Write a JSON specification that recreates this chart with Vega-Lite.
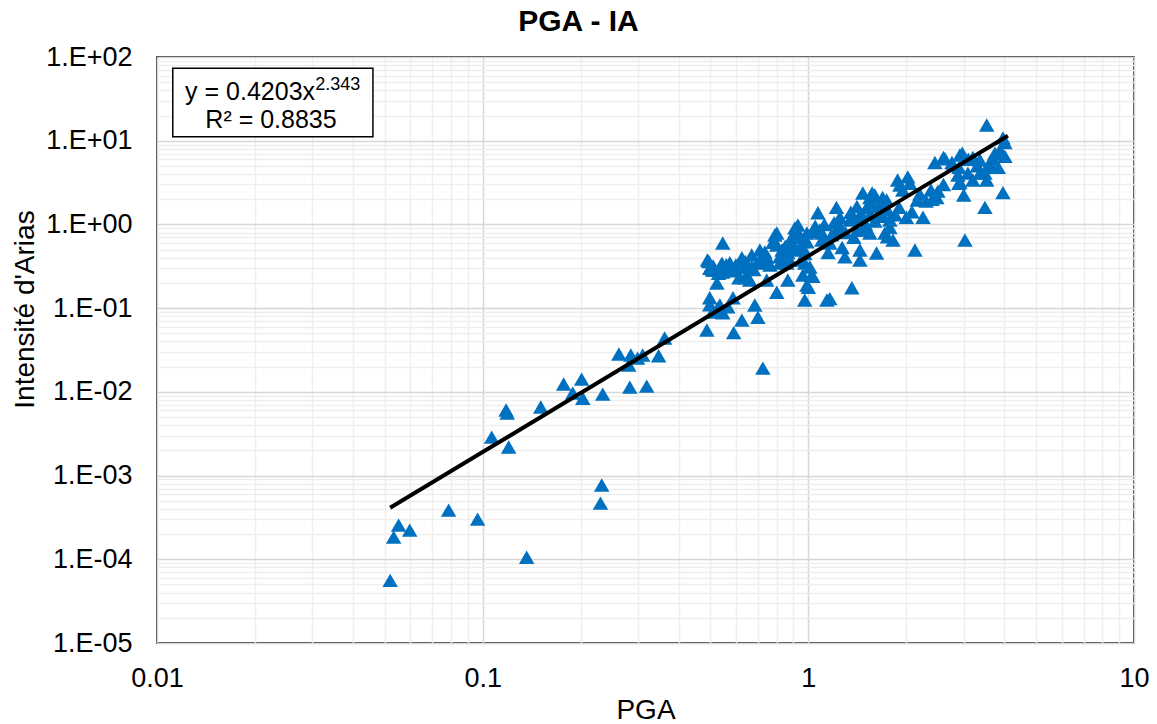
{
  "$schema": "https://vega.github.io/schema/vega-lite/v6.json",
  "width": 977,
  "height": 586,
  "autosize": {"type": "none"},
  "padding": {"left": 157, "top": 57, "right": 23, "bottom": 81},
  "background": "white",
  "title": {
    "text": "PGA - IA",
    "fontSize": 30,
    "fontWeight": "bold",
    "font": "Liberation Sans",
    "color": "black",
    "anchor": "middle",
    "offset": 6,
    "dx": -67
  },
  "config": {
    "font": "Liberation Sans",
    "view": {"stroke": "black", "strokeWidth": 1.5},
    "axisX": {
      "titleFontSize": 28,
      "titleFontWeight": "normal",
      "titleColor": "black",
      "labelFontSize": 27,
      "labelColor": "black",
      "labelPadding": 22,
      "labelOverlap": false,
      "labelFlush": false,
      "ticks": false,
      "tickSize": 0,
      "domain": false,
      "grid": true,
      "gridWidth": 1.5
    },
    "axisY": {
      "titleFontSize": 28,
      "titleFontWeight": "normal",
      "titleColor": "black",
      "labelFontSize": 27,
      "labelColor": "black",
      "labelPadding": 25,
      "labelOverlap": false,
      "labelFlush": false,
      "ticks": false,
      "tickSize": 0,
      "domain": false,
      "grid": true,
      "gridWidth": 1.5
    }
  },
  "datasets": {
    "points": [
      {"x": 0.052, "y": 5.6e-5}, {"x": 0.0533, "y": 1.84e-4}, {"x": 0.0552, "y": 2.56e-4}, {"x": 0.0597, "y": 2.23e-4},
      {"x": 0.0786, "y": 3.87e-4}, {"x": 0.0965, "y": 3.02e-4}, {"x": 0.1365, "y": 1.06e-4}, {"x": 0.232, "y": 7.7e-4},
      {"x": 0.23, "y": 4.69e-4}, {"x": 0.1066, "y": 2.88e-3}, {"x": 0.1202, "y": 2.19e-3}, {"x": 0.118, "y": 6.07e-3},
      {"x": 0.119, "y": 5.6e-3}, {"x": 0.1508, "y": 6.58e-3}, {"x": 0.1773, "y": 1.24e-2}, {"x": 0.189, "y": 9.7e-3},
      {"x": 0.2013, "y": 1.42e-2}, {"x": 0.203, "y": 8.4e-3}, {"x": 0.2337, "y": 9.4e-3}, {"x": 0.262, "y": 2.83e-2},
      {"x": 0.283, "y": 1.14e-2}, {"x": 0.285, "y": 2.75e-2}, {"x": 0.281, "y": 2.09e-2}, {"x": 0.299, "y": 2.53e-2},
      {"x": 0.31, "y": 2.75e-2}, {"x": 0.319, "y": 1.17e-2}, {"x": 0.347, "y": 2.7e-2}, {"x": 0.362, "y": 4.4e-2},
      {"x": 0.725, "y": 1.92e-2},
      {"x": 0.488, "y": 0.0547}, {"x": 0.49, "y": 0.376}, {"x": 0.495, "y": 0.36}, {"x": 0.498, "y": 0.3},
      {"x": 0.498, "y": 0.133}, {"x": 0.498, "y": 0.11}, {"x": 0.508, "y": 0.285}, {"x": 0.508, "y": 0.09},
      {"x": 0.516, "y": 0.285}, {"x": 0.524, "y": 0.2}, {"x": 0.527, "y": 0.1}, {"x": 0.535, "y": 0.109},
      {"x": 0.535, "y": 0.285}, {"x": 0.543, "y": 0.345}, {"x": 0.546, "y": 0.6}, {"x": 0.546, "y": 0.27},
      {"x": 0.546, "y": 0.088}, {"x": 0.566, "y": 0.3}, {"x": 0.566, "y": 0.104}, {"x": 0.574, "y": 0.35},
      {"x": 0.582, "y": 0.285}, {"x": 0.587, "y": 0.133}, {"x": 0.59, "y": 0.051}, {"x": 0.599, "y": 0.327},
      {"x": 0.612, "y": 0.23}, {"x": 0.625, "y": 0.4}, {"x": 0.625, "y": 0.072}, {"x": 0.63, "y": 0.31},
      {"x": 0.638, "y": 0.23}, {"x": 0.65, "y": 0.235}, {"x": 0.655, "y": 0.31}, {"x": 0.67, "y": 0.431},
      {"x": 0.67, "y": 0.31}, {"x": 0.661, "y": 0.217}, {"x": 0.685, "y": 0.109}, {"x": 0.695, "y": 0.345},
      {"x": 0.7, "y": 0.078}, {"x": 0.71, "y": 0.494}, {"x": 0.72, "y": 0.35}, {"x": 0.735, "y": 0.47},
      {"x": 0.745, "y": 0.41}, {"x": 0.745, "y": 0.217}, {"x": 0.762, "y": 0.327}, {"x": 0.778, "y": 0.61},
      {"x": 0.789, "y": 0.747}, {"x": 0.8, "y": 0.567}, {"x": 0.8, "y": 0.79}, {"x": 0.8, "y": 0.155},
      {"x": 0.817, "y": 0.41}, {"x": 0.817, "y": 0.345}, {"x": 0.83, "y": 0.494}, {"x": 0.86, "y": 0.345},
      {"x": 0.865, "y": 0.217}, {"x": 0.865, "y": 0.46}, {"x": 0.877, "y": 0.376}, {"x": 0.896, "y": 0.53},
      {"x": 0.909, "y": 0.91}, {"x": 0.909, "y": 0.8}, {"x": 0.92, "y": 0.7}, {"x": 0.92, "y": 0.494},
      {"x": 0.929, "y": 0.984}, {"x": 0.942, "y": 0.53}, {"x": 0.955, "y": 0.376}, {"x": 0.962, "y": 0.53},
      {"x": 0.962, "y": 0.249}, {"x": 0.975, "y": 0.45}, {"x": 0.975, "y": 0.125}, {"x": 0.975, "y": 0.345},
      {"x": 0.99, "y": 0.79}, {"x": 0.99, "y": 0.62}, {"x": 0.99, "y": 0.189}, {"x": 1.0, "y": 0.178},
      {"x": 1.011, "y": 0.31}, {"x": 1.025, "y": 0.249}, {"x": 1.032, "y": 0.82}, {"x": 1.032, "y": 0.24},
      {"x": 1.07, "y": 1.38}, {"x": 1.085, "y": 0.857}, {"x": 1.1, "y": 0.79}, {"x": 1.14, "y": 0.125},
      {"x": 1.15, "y": 0.46}, {"x": 1.164, "y": 0.6}, {"x": 1.164, "y": 0.13}, {"x": 1.22, "y": 1.6},
      {"x": 1.22, "y": 0.857}, {"x": 1.25, "y": 1.22}, {"x": 1.27, "y": 0.53}, {"x": 1.295, "y": 0.41},
      {"x": 1.341, "y": 1.13}, {"x": 1.36, "y": 0.175}, {"x": 1.37, "y": 1.22}, {"x": 1.41, "y": 1.64},
      {"x": 1.41, "y": 0.857}, {"x": 1.44, "y": 1.18}, {"x": 1.44, "y": 0.494}, {"x": 1.44, "y": 0.376},
      {"x": 1.47, "y": 2.37}, {"x": 1.47, "y": 0.857}, {"x": 1.51, "y": 1.58}, {"x": 1.545, "y": 2.1},
      {"x": 1.545, "y": 1.81}, {"x": 1.545, "y": 0.79}, {"x": 1.57, "y": 2.37}, {"x": 1.6, "y": 2.25},
      {"x": 1.62, "y": 0.455}, {"x": 1.635, "y": 1.64}, {"x": 1.69, "y": 2.1}, {"x": 1.7, "y": 1.6},
      {"x": 1.718, "y": 0.79}, {"x": 1.74, "y": 1.96}, {"x": 1.75, "y": 0.71}, {"x": 1.78, "y": 0.92},
      {"x": 1.78, "y": 1.13}, {"x": 1.82, "y": 0.65}, {"x": 1.88, "y": 3.39}, {"x": 1.91, "y": 2.96},
      {"x": 1.95, "y": 2.58}, {"x": 2.0, "y": 1.22}, {"x": 2.02, "y": 3.7}, {"x": 2.05, "y": 3.1},
      {"x": 2.08, "y": 1.42}, {"x": 2.125, "y": 0.494}, {"x": 2.16, "y": 1.96}, {"x": 2.25, "y": 1.22},
      {"x": 2.38, "y": 2.58}, {"x": 2.447, "y": 5.5}, {"x": 2.48, "y": 2.1}, {"x": 2.627, "y": 6.1},
      {"x": 2.6, "y": 6.3}, {"x": 2.76, "y": 5.5}, {"x": 2.78, "y": 5.13}, {"x": 2.88, "y": 3.89},
      {"x": 2.9, "y": 3.1}, {"x": 2.9, "y": 4.8}, {"x": 2.92, "y": 6.75}, {"x": 2.92, "y": 3.2},
      {"x": 2.97, "y": 7.1}, {"x": 3.0, "y": 2.25}, {"x": 3.026, "y": 0.651}, {"x": 3.09, "y": 4.1},
      {"x": 3.2, "y": 6.3}, {"x": 3.2, "y": 3.39}, {"x": 3.364, "y": 5.88}, {"x": 3.364, "y": 4.1},
      {"x": 3.485, "y": 4.1}, {"x": 3.485, "y": 1.6}, {"x": 3.53, "y": 15.4}, {"x": 3.53, "y": 3.39},
      {"x": 3.611, "y": 4.8}, {"x": 3.69, "y": 6.1}, {"x": 3.741, "y": 7.1}, {"x": 3.83, "y": 4.8},
      {"x": 3.875, "y": 7.74}, {"x": 3.96, "y": 10.8}, {"x": 3.96, "y": 2.4}, {"x": 4.015, "y": 9.5},
      {"x": 4.015, "y": 6.5},
      {"x": 0.51, "y": 0.32}, {"x": 0.53, "y": 0.26}, {"x": 0.56, "y": 0.33}, {"x": 0.6, "y": 0.28},
      {"x": 0.64, "y": 0.36}, {"x": 0.68, "y": 0.29}, {"x": 0.72, "y": 0.4}, {"x": 0.75, "y": 0.36},
      {"x": 0.85, "y": 0.55}, {"x": 0.88, "y": 0.65}, {"x": 0.94, "y": 0.75}, {"x": 1.05, "y": 0.95},
      {"x": 1.1, "y": 0.65}, {"x": 1.12, "y": 1.0}, {"x": 1.18, "y": 0.75}, {"x": 1.2, "y": 1.05},
      {"x": 1.25, "y": 0.95}, {"x": 1.3, "y": 0.8}, {"x": 1.35, "y": 1.4}, {"x": 1.38, "y": 0.7},
      {"x": 1.45, "y": 1.35}, {"x": 1.5, "y": 1.0}, {"x": 1.55, "y": 1.3}, {"x": 1.6, "y": 1.1},
      {"x": 1.65, "y": 1.35}, {"x": 1.7, "y": 1.25}, {"x": 1.75, "y": 1.5}, {"x": 1.85, "y": 1.3},
      {"x": 1.9, "y": 1.6}, {"x": 2.2, "y": 2.3}, {"x": 2.3, "y": 1.9}, {"x": 2.4, "y": 2.0},
      {"x": 2.5, "y": 2.5}, {"x": 2.6, "y": 3.0}, {"x": 3.1, "y": 6.0}, {"x": 3.3, "y": 5.0},
      {"x": 3.6, "y": 5.4}, {"x": 3.9, "y": 7.0}
    ],
    "trend": [
      {"x": 0.052, "y": 0.000412}, {"x": 0.1, "y": 0.001908}, {"x": 0.2, "y": 0.00968},
      {"x": 0.5, "y": 0.0829}, {"x": 1, "y": 0.4203}, {"x": 2, "y": 2.132}, {"x": 4.1, "y": 11.47}
    ]
  },
  "layer": [
    {
      "data": {"name": "points"},
      "mark": {"type": "point", "shape": "triangle-up", "filled": true, "color": "#0070C0", "opacity": 1, "size": 240},
      "encoding": {
        "x": {
          "field": "x",
          "type": "quantitative",
          "scale": {"type": "log", "domain": [0.01, 10], "nice": false},
          "axis": {
            "title": "PGA",
            "titleBaseline": "alphabetic",
            "titleY": 75,
            "values": [0.01, 0.02, 0.03, 0.04, 0.05, 0.06, 0.07, 0.08, 0.09, 0.1, 0.2, 0.3, 0.4, 0.5, 0.6, 0.7, 0.8, 0.9, 1, 2, 3, 4, 5, 6, 7, 8, 9, 10],
            "format": "~g",
            "labelExpr": "abs(log(datum.value)/LN10 - round(log(datum.value)/LN10)) < 0.001 ? datum.label : ''",
            "gridColor": {"condition": {"test": "abs(log(datum.value)/LN10 - round(log(datum.value)/LN10)) < 0.001", "value": "#d6d6d6"}, "value": "#eeeeee"}
          }
        },
        "y": {
          "field": "y",
          "type": "quantitative",
          "scale": {"type": "log", "domain": [0.00001, 100], "nice": false},
          "axis": {
            "title": "Intensité d'Arias",
            "titleAngle": -90,
            "titleBaseline": "alphabetic",
            "titleAlign": "center",
            "titleX": -124,
            "titleY": 252,
            "values": [0.00001, 0.00002, 0.00003, 0.00004, 0.00005, 0.00006, 0.00007, 0.00008, 0.00009, 0.0001, 0.0002, 0.0003, 0.0004, 0.0005, 0.0006, 0.0007, 0.0008, 0.0009, 0.001, 0.002, 0.003, 0.004, 0.005, 0.006, 0.007, 0.008, 0.009, 0.01, 0.02, 0.03, 0.04, 0.05, 0.06, 0.07, 0.08, 0.09, 0.1, 0.2, 0.3, 0.4, 0.5, 0.6, 0.7, 0.8, 0.9, 1, 2, 3, 4, 5, 6, 7, 8, 9, 10, 20, 30, 40, 50, 60, 70, 80, 90, 100],
            "labelExpr": "abs(log(datum.value)/LN10 - round(log(datum.value)/LN10)) < 0.001 ? '1.E' + (round(log(datum.value)/LN10) < 0 ? '-' : '+') + '0' + abs(round(log(datum.value)/LN10)) : ''",
            "gridColor": {"condition": {"test": "abs(log(datum.value)/LN10 - round(log(datum.value)/LN10)) < 0.001", "value": "#d6d6d6"}, "value": "#eeeeee"}
          }
        }
      }
    },
    {
      "data": {"name": "trend"},
      "mark": {"type": "line", "color": "black", "strokeWidth": 4},
      "encoding": {
        "x": {"field": "x", "type": "quantitative"},
        "y": {"field": "y", "type": "quantitative"}
      }
    },
    {
      "data": {"values": [{"k": 1}]},
      "mark": {"type": "rect", "fill": "white", "stroke": "black", "strokeWidth": 1.5},
      "encoding": {
        "x": {"datum": 0.01118},
        "x2": {"datum": 0.04603},
        "y": {"datum": 73.3},
        "y2": {"datum": 11.16}
      }
    },
    {
      "data": {"values": [{"k": 1}]},
      "mark": {"type": "text", "text": "y = 0.4203x", "fontSize": 25, "align": "right", "baseline": "alphabetic", "color": "black"},
      "encoding": {
        "x": {"datum": 0.03057},
        "y": {"datum": 31.06}
      }
    },
    {
      "data": {"values": [{"k": 1}]},
      "mark": {"type": "text", "text": "2.343", "fontSize": 18, "align": "left", "baseline": "alphabetic", "color": "black"},
      "encoding": {
        "x": {"datum": 0.0306},
        "y": {"datum": 40.3}
      }
    },
    {
      "data": {"values": [{"k": 1}]},
      "mark": {"type": "text", "text": "R² = 0.8835", "fontSize": 25, "align": "center", "baseline": "alphabetic", "color": "black"},
      "encoding": {
        "x": {"datum": 0.02239},
        "y": {"datum": 14.38}
      }
    }
  ]
}
